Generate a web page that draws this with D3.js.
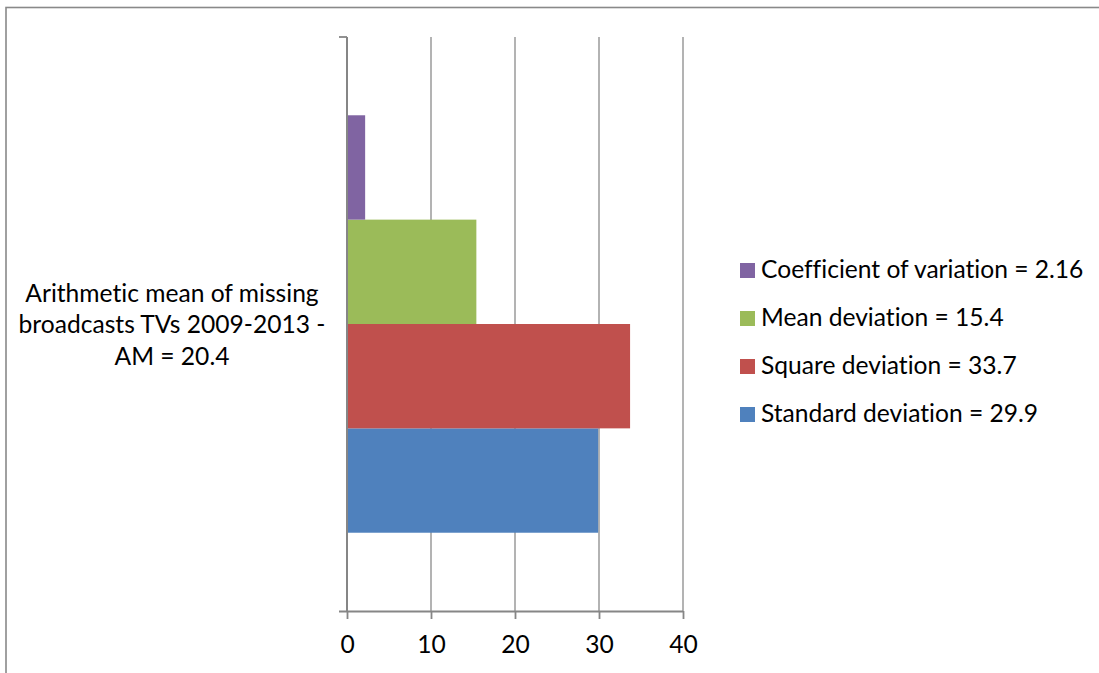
<!DOCTYPE html>
<html>
<head>
<meta charset="utf-8">
<script src="https://cdn.jsdelivr.net/npm/d3@7"></script>
<style>
  html, body { margin: 0; padding: 0; background: #fff; }
  svg { display: block; }
  text { font-family: Lato, "Open Sans", sans-serif; fill: #000; font-variant-ligatures: none; font-feature-settings: "liga" 0, "clig" 0; }
</style>
</head>
<body>
<svg id="chart" width="1099" height="673"></svg>
<script>
// Dispersion measures for missing TV broadcasts, 2009-2013
const categoryLines = ["Arithmetic mean of missing", "broadcasts TVs 2009-2013 -", "AM = 20.4"];
const category = "AM";
const seriesNames = ["Standard deviation", "Square deviation", "Mean deviation", "Coefficient of variation"];
const seriesValues = [29.9, 33.7, 15.4, 2.16];
const seriesLabels = ["Standard deviation = 29.9", "Square deviation = 33.7", "Mean deviation = 15.4", "Coefficient of variation = 2.16"];
const seriesColors = ["#4F81BD", "#C0504D", "#9BBB59", "#8064A2"];
const xTicks = [0, 10, 20, 30, 40];

const svg = d3.select("#chart");
const fontSize = 24.6;
const axisColor = "#868686";
const gridColor = "#a0a0a0";

// chart border
svg.append("rect")
  .attr("x", 6).attr("y", 7.5)
  .attr("width", 1200).attr("height", 800)
  .attr("fill", "none").attr("stroke", "#898989").attr("stroke-width", 1.6);

const plot = { left: 347, right: 683, top: 37, bottom: 611 };

const x = d3.scaleLinear().domain([0, 40]).range([plot.left, plot.right]);
const yCat = d3.scaleBand().domain([category]).range([plot.top, plot.bottom]);
// first series sits at the bottom of the band
const ySer = d3.scaleBand()
  .domain(seriesNames.slice().reverse())
  .range([yCat(category), yCat(category) + yCat.bandwidth()])
  .paddingInner(0).paddingOuter(0.75);

// gridlines
svg.append("g").selectAll("line")
  .data(xTicks.filter(d => d > 0))
  .join("line")
  .attr("x1", d => x(d)).attr("x2", d => x(d))
  .attr("y1", plot.top).attr("y2", plot.bottom)
  .attr("stroke", gridColor).attr("stroke-width", 1.6);

// bars
svg.append("g").selectAll("rect")
  .data(seriesNames.map((name, i) => ({ name, value: seriesValues[i], color: seriesColors[i] })))
  .join("rect")
  .attr("x", x(0))
  .attr("y", d => ySer(d.name))
  .attr("width", d => x(d.value) - x(0))
  .attr("height", ySer.bandwidth())
  .attr("fill", d => d.color);

// bottom value axis
const xAxis = d3.axisBottom(x).tickValues(xTicks).tickSize(8).tickPadding(17);
const gx = svg.append("g").attr("transform", `translate(0,${plot.bottom})`).call(xAxis);
gx.select(".domain").attr("d", `M${plot.left - 8},0.5H${plot.right}`)
  .attr("stroke", axisColor).attr("stroke-width", 1.8);
gx.selectAll(".tick line").attr("stroke", axisColor).attr("stroke-width", 1.8);
gx.selectAll(".tick text")
  .attr("font-size", fontSize).attr("font-family", "Lato, sans-serif").attr("fill", "#000");

// left category axis
const gy = svg.append("g");
gy.append("line")
  .attr("x1", plot.left).attr("x2", plot.left)
  .attr("y1", plot.top).attr("y2", plot.bottom)
  .attr("stroke", axisColor).attr("stroke-width", 2);
gy.selectAll("line.tick")
  .data([plot.top])
  .join("line").attr("class", "tick")
  .attr("x1", plot.left - 8).attr("x2", plot.left)
  .attr("y1", d => d).attr("y2", d => d)
  .attr("stroke", axisColor).attr("stroke-width", 1.8);

// category label, wrapped across three centred lines
const lineH = 31.5;
const catCenter = yCat(category) + yCat.bandwidth() / 2;
const catText = svg.append("text")
  .attr("font-size", fontSize)
  .attr("text-anchor", "middle");
catText.selectAll("tspan")
  .data(categoryLines)
  .join("tspan")
  .attr("x", 172)
  .attr("y", (d, i) => catCenter + (i - (categoryLines.length - 1) / 2) * lineH + 9)
  .text(d => d);

// legend, last series on top
const legendOrder = d3.range(seriesNames.length).reverse();
const legend = svg.append("g").selectAll("g")
  .data(legendOrder)
  .join("g")
  .attr("transform", (d, i) => `translate(740,${278 + i * 48})`);
legend.append("rect")
  .attr("x", 0).attr("y", -15)
  .attr("width", 15).attr("height", 15)
  .attr("fill", d => seriesColors[d]);
legend.append("text")
  .attr("x", 21).attr("y", 0)
  .attr("font-size", fontSize)
  .text(d => seriesLabels[d]);
</script>
</body>
</html>
